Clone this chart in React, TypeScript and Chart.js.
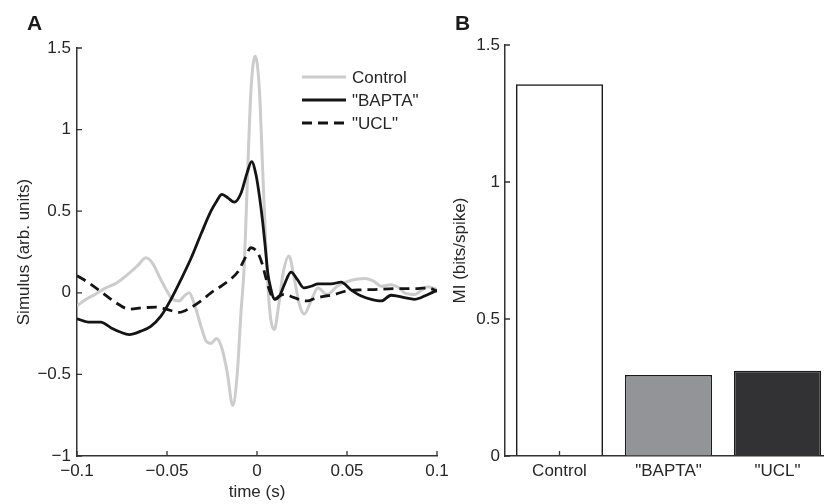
import React, { useEffect, useRef } from 'react';
import { Chart, registerables } from 'chart.js';

Chart.register(...registerables);

// ---------- Data ----------
const seriesLabels = ['Control', '"BAPTA"', '"UCL"'];

const controlTime = [-0.1, -0.095, -0.09, -0.084, -0.078, -0.071, -0.066, -0.0617, -0.058, -0.0543, -0.0505, -0.0469, -0.0432, -0.0405, -0.0377, -0.0345, -0.031, -0.028, -0.0255, -0.0225, -0.0195, -0.0165, -0.0135, -0.011, -0.0089, -0.007, -0.0052, -0.0033, -0.001, 0.0013, 0.0032, 0.0055, 0.0075, 0.0096, 0.012, 0.0145, 0.0178, 0.0205, 0.0235, 0.0263, 0.03, 0.0338, 0.039, 0.0445, 0.0504, 0.056, 0.06, 0.065, 0.069, 0.0745, 0.079, 0.082, 0.0877, 0.092, 0.095, 0.1];
const controlValues = [-0.08, -0.04, -0.01, 0.03, 0.06, 0.12, 0.17, 0.215, 0.18, 0.1, 0.02, -0.04, -0.05, -0.02, 0.0, -0.08, -0.21, -0.3, -0.31, -0.28, -0.34, -0.49, -0.69, -0.5, -0.12, 0.18, 0.74, 1.25, 1.45, 1.25, 0.74, 0.15, -0.15, -0.225, -0.08, 0.12, 0.225, 0.1, -0.07, -0.13, -0.05, 0.03, -0.01, 0.04, 0.07, 0.085, 0.088, 0.07, 0.04, 0.05, 0.03, 0.0, -0.01, 0.02, 0.037, 0.02];

const baptaTime = [-0.1, -0.0928, -0.0868, -0.081, -0.076, -0.071, -0.0645, -0.059, -0.0534, -0.0478, -0.0423, -0.0367, -0.0311, -0.0256, -0.0225, -0.0195, -0.016, -0.0126, -0.0089, -0.0055, -0.003, -0.0005, 0.0015, 0.0032, 0.0046, 0.006, 0.0078, 0.0096, 0.0125, 0.0152, 0.0189, 0.0225, 0.026, 0.03, 0.034, 0.0412, 0.0467, 0.052, 0.058, 0.0635, 0.069, 0.0745, 0.078, 0.082, 0.0875, 0.091, 0.095, 0.1];
const baptaValues = [-0.16, -0.18, -0.18, -0.215, -0.24, -0.256, -0.235, -0.205, -0.143, -0.04, 0.08, 0.21, 0.36, 0.5, 0.56, 0.603, 0.58, 0.555, 0.61, 0.735, 0.804, 0.72, 0.58, 0.43, 0.28, 0.12, 0.02, -0.04, -0.02, 0.05, 0.127, 0.08, 0.03, 0.04, 0.055, 0.055, 0.065, 0.02, -0.02, -0.04, -0.05, -0.015, -0.02, -0.03, -0.04, -0.03, -0.01, 0.015];

const uclTime = [-0.1, -0.0933, -0.0858, -0.0784, -0.071, -0.0636, -0.056, -0.0506, -0.0432, -0.0367, -0.0311, -0.0256, -0.02, -0.0145, -0.0105, -0.007, -0.0033, 0.0004, 0.0028, 0.0045, 0.0068, 0.0096, 0.0125, 0.0152, 0.0207, 0.0245, 0.0282, 0.032, 0.0356, 0.043, 0.05, 0.0575, 0.0655, 0.073, 0.0801, 0.0894, 0.095, 0.1];
const uclValues = [0.105, 0.06, 0.0, -0.06, -0.1, -0.092, -0.088, -0.1, -0.12, -0.09, -0.05, 0.0, 0.04, 0.085, 0.13, 0.205, 0.276, 0.245, 0.18, 0.11, 0.02, -0.04, -0.02, -0.01, -0.03, -0.045, -0.05, -0.035, -0.025, -0.01, 0.012, 0.018, 0.02, 0.024, 0.026, 0.026, 0.03, 0.01];

const barCategories = ['Control', '"BAPTA"', '"UCL"'];
const miValues = [1.357, 0.296, 0.311];

// ---------- Styles ----------
const FONT = "'Liberation Sans', Arial, Helvetica, sans-serif";
const TEXT = '#262626';
const AXIS = '#333333';
const FS = 17;

const toPoints = (t: number[], v: number[]) => t.map((x, i) => ({ x, y: v[i] }));
const fmt = (v: number | string) => String(Number(Number(v).toFixed(4))).replace('-', '\u2212');

function inwardTicks(hook: 'afterDatasetsDraw' | 'beforeDatasetsDraw') {
  return {
    id: 'inwardTicks',
    [hook]: (chart: any) => {
      const ctx = chart.ctx;
      const xs = chart.scales.x;
      const ys = chart.scales.y;
      const ca = chart.chartArea;
      ctx.save();
      ctx.strokeStyle = AXIS;
      ctx.lineWidth = 1.3;
      ctx.beginPath();
      xs.ticks.forEach((_: any, i: number) => {
        const px = xs.getPixelForTick(i);
        ctx.moveTo(px, ca.bottom);
        ctx.lineTo(px, ca.bottom - 5);
      });
      ys.ticks.forEach((_: any, i: number) => {
        const py = ys.getPixelForTick(i);
        ctx.moveTo(ca.left, py);
        ctx.lineTo(ca.left + 5, py);
      });
      ctx.stroke();
      ctx.restore();
    },
  };
}

const legendPlugin = {
  id: 'insideLegend',
  afterDatasetsDraw: (chart: any) => {
    const ctx = chart.ctx;
    const ca = chart.chartArea;
    const x0 = ca.left + 225;
    const len = 44;
    ctx.save();
    chart.data.datasets.forEach((ds: any, i: number) => {
      const y = ca.top + 29 + i * 23;
      ctx.strokeStyle = ds.borderColor;
      ctx.lineWidth = ds.borderWidth;
      ctx.setLineDash(ds.borderDash || []);
      ctx.beginPath();
      ctx.moveTo(x0, y);
      ctx.lineTo(x0 + len, y);
      ctx.stroke();
      ctx.setLineDash([]);
      ctx.fillStyle = TEXT;
      ctx.font = `${FS}px ${FONT}`;
      ctx.textAlign = 'left';
      ctx.textBaseline = 'middle';
      ctx.fillText(ds.label, x0 + len + 6, y + 1);
    });
    ctx.restore();
  },
};

function LinePanel() {
  const ref = useRef<HTMLCanvasElement>(null);
  useEffect(() => {
    const chart = new Chart(ref.current as HTMLCanvasElement, {
      type: 'line',
      data: {
        datasets: [
          {
            label: seriesLabels[0],
            data: toPoints(controlTime, controlValues),
            borderColor: '#cccccc',
            borderWidth: 3,
            pointRadius: 0,
            cubicInterpolationMode: 'monotone',
            order: 3,
          },
          {
            label: seriesLabels[1],
            data: toPoints(baptaTime, baptaValues),
            borderColor: '#141414',
            borderWidth: 2.8,
            pointRadius: 0,
            cubicInterpolationMode: 'monotone',
            order: 1,
          },
          {
            label: seriesLabels[2],
            data: toPoints(uclTime, uclValues),
            borderColor: '#141414',
            borderWidth: 2.8,
            borderDash: [10, 6],
            pointRadius: 0,
            cubicInterpolationMode: 'monotone',
            order: 2,
          },
        ],
      },
      options: {
        animation: false,
        responsive: false,
        maintainAspectRatio: false,
        layout: { padding: { left: 0, right: 13, top: 48, bottom: 0 } },
        plugins: { legend: { display: false }, tooltip: { enabled: false } },
        scales: {
          x: {
            type: 'linear',
            min: -0.1,
            max: 0.1,
            ticks: {
              stepSize: 0.05,
              color: TEXT,
              font: { family: FONT, size: FS },
              padding: 5,
              maxRotation: 0,
              callback: (v: any) => fmt(v),
            },
            grid: { display: true, drawOnChartArea: false, drawTicks: false },
            border: { display: true, color: AXIS, width: 1.5 },
            title: {
              display: true,
              text: 'time (s)',
              color: TEXT,
              font: { family: FONT, size: FS },
              padding: { top: 0, bottom: 1 },
            },
            afterFit: (s: any) => {
              s.height = 48;
              s.paddingLeft = 0;
              s.paddingRight = 0;
            },
          },
          y: {
            type: 'linear',
            min: -1,
            max: 1.5,
            ticks: {
              stepSize: 0.5,
              color: TEXT,
              font: { family: FONT, size: FS },
              padding: 6,
              callback: (v: any) => fmt(v),
            },
            grid: { display: true, drawOnChartArea: false, drawTicks: false },
            border: { display: true, color: AXIS, width: 1.5 },
            title: {
              display: true,
              text: 'Simulus (arb. units)',
              color: TEXT,
              font: { family: FONT, size: FS },
              padding: { top: 14, bottom: 0 },
            },
            afterFit: (s: any) => {
              s.width = 77;
              s.paddingTop = 0;
              s.paddingBottom = 0;
            },
          },
        },
      } as any,
      plugins: [inwardTicks('afterDatasetsDraw'), legendPlugin],
    } as any);
    return () => chart.destroy();
  }, []);
  return <canvas ref={ref} width={450} height={504} style={{ position: 'absolute', left: 0, top: 0, width: 450, height: 504 }} />;
}

function BarPanel() {
  const ref = useRef<HTMLCanvasElement>(null);
  useEffect(() => {
    const chart = new Chart(ref.current as HTMLCanvasElement, {
      type: 'bar',
      data: {
        labels: barCategories,
        datasets: [
          {
            label: 'MI',
            data: miValues,
            backgroundColor: ['rgba(255,255,255,0)', '#939498', '#323133'],
            borderColor: '#1c1c1c',
            borderWidth: 1.5,
            barPercentage: 0.8,
            categoryPercentage: 1,
          },
        ],
      },
      options: {
        animation: false,
        responsive: false,
        maintainAspectRatio: false,
        layout: { padding: { left: 0, right: 8, top: 45, bottom: 0 } },
        plugins: { legend: { display: false }, tooltip: { enabled: false } },
        scales: {
          x: {
            ticks: {
              color: TEXT,
              font: { family: FONT, size: FS },
              padding: 5,
              maxRotation: 0,
            },
            grid: { display: true, drawOnChartArea: false, drawTicks: false },
            border: { display: true, color: AXIS, width: 1.5 },
            afterFit: (s: any) => {
              s.height = 48;
              s.paddingLeft = 0;
              s.paddingRight = 0;
            },
          },
          y: {
            type: 'linear',
            min: 0,
            max: 1.5,
            ticks: {
              stepSize: 0.5,
              color: TEXT,
              font: { family: FONT, size: FS },
              padding: 5,
              callback: (v: any) => fmt(v),
            },
            grid: { display: true, drawOnChartArea: false, drawTicks: false },
            border: { display: true, color: AXIS, width: 1.5 },
            title: {
              display: true,
              text: 'MI (bits/spike)',
              color: TEXT,
              font: { family: FONT, size: FS },
              padding: { top: 10, bottom: 0 },
            },
            afterFit: (s: any) => {
              s.width = 65;
              s.paddingTop = 0;
              s.paddingBottom = 0;
            },
          },
        },
      } as any,
      plugins: [inwardTicks('beforeDatasetsDraw')],
    } as any);
    return () => chart.destroy();
  }, []);
  return <canvas ref={ref} width={400} height={504} style={{ position: 'absolute', left: 0, top: 0, width: 400, height: 504 }} />;
}

const panelLabel: React.CSSProperties = {
  position: 'absolute',
  top: 12,
  fontFamily: FONT,
  fontWeight: 'bold',
  fontSize: 21,
  lineHeight: '21px',
  color: '#1a1a1a',
};

export default function App() {
  return (
    <div style={{ position: 'fixed', left: 0, top: 0, width: 824, height: 504, background: '#ffffff', overflow: 'hidden' }}>
      <LinePanel />
      <div style={{ position: 'absolute', left: 440, top: 0, width: 384, height: 504, overflow: 'hidden' }}>
        <BarPanel />
      </div>
      <div style={{ ...panelLabel, left: 27 }}>A</div>
      <div style={{ ...panelLabel, left: 455 }}>B</div>
    </div>
  );
}
